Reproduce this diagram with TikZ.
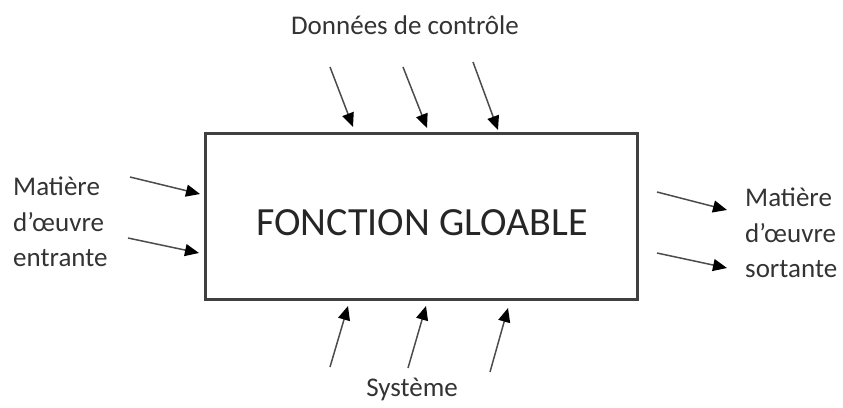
\documentclass[tikz,border=0pt]{standalone}
\usepackage{fontspec}
\setmainfont{Carlito}
\usetikzlibrary{arrows.meta}
\begin{document}
\begin{tikzpicture}[x=1pt,y=-1pt,
  lbl/.style={inner sep=0pt, font=\fontsize{27}{35.5}\selectfont, text=black!80, align=left},
  flow/.style={draw=black!70, line width=1.5pt, -{Triangle[length=14pt,width=12pt,color=black]}}]
\useasboundingbox (0,0) rectangle (843,407);
\node[draw=black!75, line width=3pt, minimum width=432pt, minimum height=166pt, inner sep=0pt] (box) at (421,216) {};
\node[inner sep=0pt, font=\fontsize{40}{48}\selectfont, text=black!85] (title) at (422,223) {FONCTION GLOABLE};
\node[lbl] (ctrl) at (405,25) {Données de contrôle};
\node[lbl] (sys) at (412,389) {Système};
\node[lbl, anchor=west] (in) at (13,222) {Matière\\d’œuvre\\entrante};
\node[lbl, anchor=west] (out) at (745,233) {Matière\\d’œuvre\\sortante};
% top arrows
\coordinate (t1s) at (330,67); \coordinate (t1e) at (353,127);
\coordinate (t2s) at (403,67); \coordinate (t2e) at (427,128);
\coordinate (t3s) at (473,62); \coordinate (t3e) at (498,130);
\draw[flow] (t1s) -- (t1e);
\draw[flow] (t2s) -- (t2e);
\draw[flow] (t3s) -- (t3e);
% bottom arrows
\coordinate (b1s) at (330,367); \coordinate (b1e) at (348,306);
\coordinate (b2s) at (408,368); \coordinate (b2e) at (426,306);
\coordinate (b3s) at (490,372); \coordinate (b3e) at (508,308);
\draw[flow] (b1s) -- (b1e);
\draw[flow] (b2s) -- (b2e);
\draw[flow] (b3s) -- (b3e);
% left arrows
\coordinate (l1s) at (130,177); \coordinate (l1e) at (200,194);
\coordinate (l2s) at (128,238); \coordinate (l2e) at (199,253);
\draw[flow] (l1s) -- (l1e);
\draw[flow] (l2s) -- (l2e);
% right arrows
\coordinate (r1s) at (657,192); \coordinate (r1e) at (727,210);
\coordinate (r2s) at (657,253); \coordinate (r2e) at (727,268);
\draw[flow] (r1s) -- (r1e);
\draw[flow] (r2s) -- (r2e);
\end{tikzpicture}
\end{document}
